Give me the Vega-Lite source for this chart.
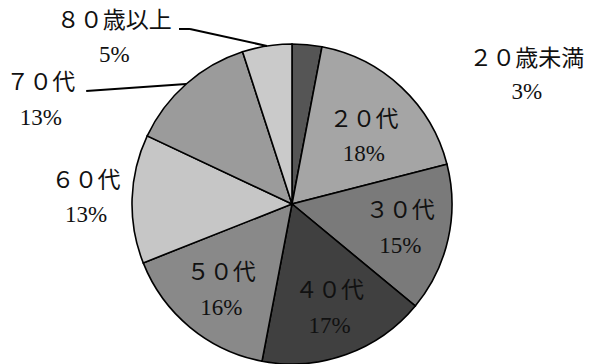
{
  "$schema": "https://vega.github.io/schema/vega-lite/v6.json",
  "width": 592,
  "height": 364,
  "padding": 0,
  "autosize": {"type": "none"},
  "background": "white",
  "config": {"view": {"stroke": null}},
  "data": {
    "values": [
      {"n": 1, "age": "２０歳未満", "pct": 3},
      {"n": 2, "age": "２０代", "pct": 18},
      {"n": 3, "age": "３０代", "pct": 15},
      {"n": 4, "age": "４０代", "pct": 17},
      {"n": 5, "age": "５０代", "pct": 16},
      {"n": 6, "age": "６０代", "pct": 13},
      {"n": 7, "age": "７０代", "pct": 13},
      {"n": 8, "age": "８０歳以上", "pct": 5}
    ]
  },
  "transform": [
    {"calculate": "datum.age + '\\n' + datum.pct + '%'", "as": "label"},
    {"window": [{"op": "sum", "field": "pct", "as": "cum"}], "sort": [{"field": "n"}], "frame": [null, 0]},
    {"joinaggregate": [{"op": "sum", "field": "pct", "as": "total"}]},
    {"calculate": "(datum.cum - datum.pct / 2) / datum.total * 2 * PI", "as": "mid"},
    {"calculate": "sin(datum.mid)", "as": "ex"},
    {"calculate": "cos(datum.mid)", "as": "ey"},
    {"calculate": "sin(datum.mid)", "as": "ex2"},
    {"calculate": "cos(datum.mid)", "as": "ey2"}
  ],
  "layer": [
    {
      "mark": {"type": "arc", "outerRadius": 160, "stroke": "black", "strokeWidth": 1.6},
      "encoding": {
        "x": {"datum": 0, "type": "quantitative", "scale": {"domain": [-1.825, 1.875], "nice": false, "zero": false}, "axis": null},
        "y": {"datum": 0, "type": "quantitative", "scale": {"domain": [-1, 1.275], "nice": false, "zero": false}, "axis": null},
        "theta": {"field": "pct", "type": "quantitative", "stack": true},
        "order": {"field": "n", "type": "quantitative"},
        "color": {
          "field": "age", "type": "nominal", "legend": null,
          "scale": {
            "domain": ["２０歳未満", "２０代", "３０代", "４０代", "５０代", "６０代", "７０代", "８０歳以上"],
            "range": ["#555555", "#a5a5a5", "#7a7a7a", "#404040", "#898989", "#c6c6c6", "#9b9b9b", "#cacaca"]
          }
        }
      }
    },
    {
      "transform": [{"filter": "datum.n >= 3 && datum.n <= 5"}],
      "mark": {"type": "text", "radius": 111, "dy": -17, "fontSize": 23, "font": "Liberation Serif, Noto Sans CJK JP", "lineBreak": "\n", "lineHeight": 35, "align": "center", "baseline": "middle", "color": "#111111"},
      "encoding": {
        "x": {"datum": 0, "type": "quantitative"},
        "y": {"datum": 0, "type": "quantitative"},
        "theta": {"field": "mid", "type": "quantitative", "scale": null, "stack": null},
        "text": {"field": "label"}
      }
    },
    {
      "transform": [{"filter": "datum.n == 2"}],
      "mark": {"type": "text", "radius": 98, "thetaOffset": 0.07, "dy": -17, "fontSize": 23, "font": "Liberation Serif, Noto Sans CJK JP", "lineBreak": "\n", "lineHeight": 34, "align": "center", "baseline": "middle", "color": "#111111"},
      "encoding": {
        "x": {"datum": 0, "type": "quantitative"},
        "y": {"datum": 0, "type": "quantitative"},
        "theta": {"field": "mid", "type": "quantitative", "scale": null, "stack": null},
        "text": {"field": "label"}
      }
    },
    {
      "transform": [{"filter": "datum.n == 6"}],
      "mark": {"type": "text", "radius": 206, "dy": -17, "fontSize": 23, "font": "Liberation Serif, Noto Sans CJK JP", "lineBreak": "\n", "lineHeight": 34, "align": "center", "baseline": "middle", "color": "#111111"},
      "encoding": {
        "x": {"datum": 0, "type": "quantitative"},
        "y": {"datum": 0, "type": "quantitative"},
        "theta": {"field": "mid", "type": "quantitative", "scale": null, "stack": null},
        "text": {"field": "label"}
      }
    },
    {
      "transform": [{"filter": "datum.n == 7"}],
      "mark": {"type": "text", "radius": 272, "thetaOffset": -0.454, "dy": -17, "fontSize": 23, "font": "Liberation Serif, Noto Sans CJK JP", "lineBreak": "\n", "lineHeight": 35, "align": "center", "baseline": "middle", "color": "#111111"},
      "encoding": {
        "x": {"datum": 0, "type": "quantitative"},
        "y": {"datum": 0, "type": "quantitative"},
        "theta": {"field": "mid", "type": "quantitative", "scale": null, "stack": null},
        "text": {"field": "label"}
      }
    },
    {
      "transform": [{"filter": "datum.n == 8"}],
      "mark": {"type": "text", "radius": 243, "thetaOffset": -0.663, "dy": -17, "fontSize": 23, "font": "Liberation Serif, Noto Sans CJK JP", "lineBreak": "\n", "lineHeight": 34, "align": "center", "baseline": "middle", "color": "#111111"},
      "encoding": {
        "x": {"datum": 0, "type": "quantitative"},
        "y": {"datum": 0, "type": "quantitative"},
        "theta": {"field": "mid", "type": "quantitative", "scale": null, "stack": null},
        "text": {"field": "label"}
      }
    },
    {
      "transform": [{"filter": "datum.n == 1"}],
      "mark": {"type": "text", "radius": 268, "thetaOffset": 0.974, "dy": -16, "fontSize": 23, "font": "Liberation Serif, Noto Sans CJK JP", "lineBreak": "\n", "lineHeight": 33, "align": "center", "baseline": "middle", "color": "#111111"},
      "encoding": {
        "x": {"datum": 0, "type": "quantitative"},
        "y": {"datum": 0, "type": "quantitative"},
        "theta": {"field": "mid", "type": "quantitative", "scale": null, "stack": null},
        "text": {"field": "label"}
      }
    },
    {
      "transform": [{"filter": "datum.n == 7"}],
      "mark": {"type": "rule", "color": "black", "strokeWidth": 2, "x2Offset": -100, "y2Offset": 7},
      "encoding": {
        "x": {"field": "ex", "type": "quantitative"},
        "y": {"field": "ey", "type": "quantitative"},
        "x2": {"field": "ex2"},
        "y2": {"field": "ey2"}
      }
    },
    {
      "transform": [{"filter": "datum.n == 8"}],
      "mark": {"type": "rule", "color": "black", "strokeWidth": 2, "x2Offset": -77, "y2Offset": -17},
      "encoding": {
        "x": {"field": "ex", "type": "quantitative"},
        "y": {"field": "ey", "type": "quantitative"},
        "x2": {"field": "ex2"},
        "y2": {"field": "ey2"}
      }
    },
    {
      "transform": [{"filter": "datum.n == 8"}],
      "mark": {"type": "rule", "color": "black", "strokeWidth": 2, "xOffset": -77, "yOffset": -17, "x2Offset": -88, "y2Offset": -17},
      "encoding": {
        "x": {"field": "ex", "type": "quantitative"},
        "y": {"field": "ey", "type": "quantitative"},
        "x2": {"field": "ex2"},
        "y2": {"field": "ey2"}
      }
    }
  ]
}
